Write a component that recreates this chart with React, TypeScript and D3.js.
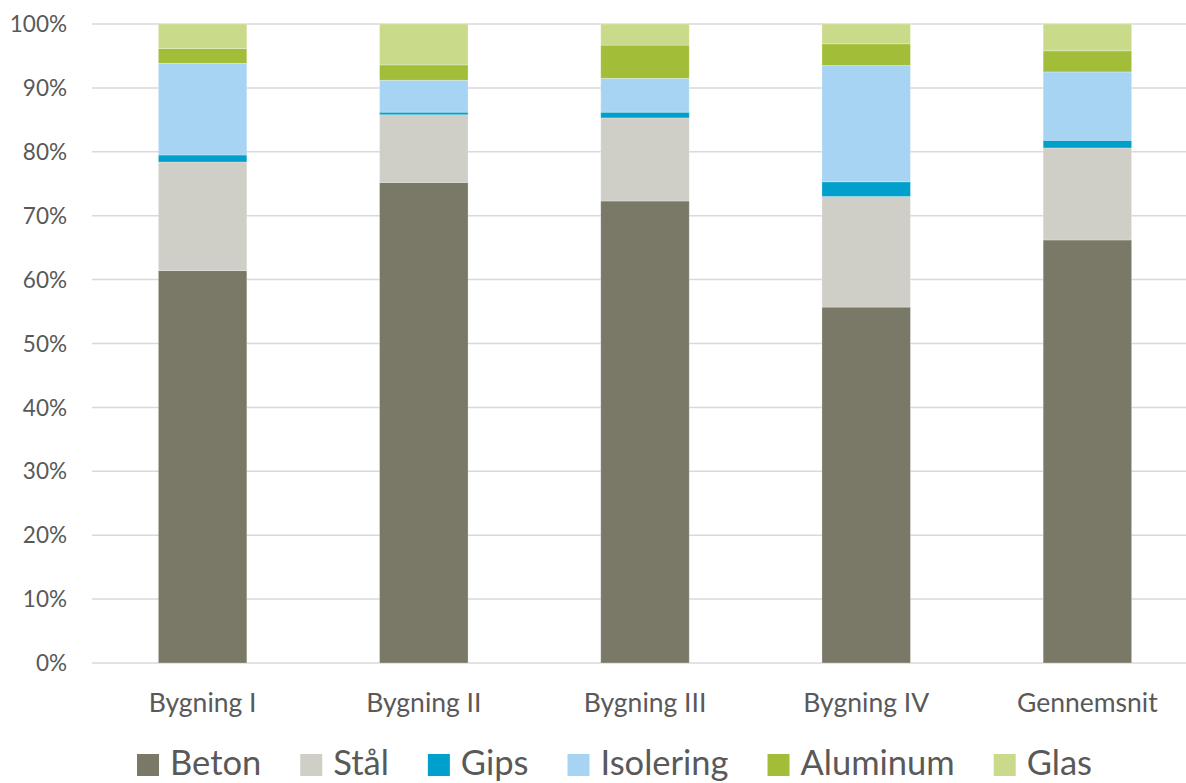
import React, { useEffect, useRef } from "react";
import * as d3 from "d3";

const categories = ["Bygning I", "Bygning II", "Bygning III", "Bygning IV", "Gennemsnit"];
const materials = ["Beton", "Stål", "Gips", "Isolering", "Aluminum", "Glas"];

// Share of each material per building (percent)
const beton = [61.4, 75.2, 72.3, 55.7, 66.2];
const staal = [17.0, 10.6, 13.0, 17.3, 14.4];
const gips = [1.1, 0.4, 0.9, 2.3, 1.2];
const isolering = [14.35, 5.0, 5.3, 18.2, 10.7];
const aluminum = [2.3, 2.4, 5.2, 3.4, 3.3];
const glas = [3.85, 6.4, 3.3, 3.1, 4.2];

const yTicks = [0, 0.1, 0.2, 0.3, 0.4, 0.5, 0.6, 0.7, 0.8, 0.9, 1.0];

const colors = ["#7a7866", "#cfcfc7", "#009fcc", "#a8d4f4", "#a2be38", "#c9da8b"];

const W = 1186;
const H = 783;
const FONT = "Lato, 'Liberation Sans', Arial, sans-serif";
const TEXT = "#595959";

export default function App() {
  const ref = useRef<SVGSVGElement | null>(null);

  useEffect(() => {
    const svg = d3.select(ref.current);
    svg.selectAll("*").remove();

    const series = [beton, staal, gips, isolering, aluminum, glas];
    const rows = categories.map((c, i) => {
      const r: Record<string, any> = { category: c };
      materials.forEach((m, k) => (r[m] = series[k][i]));
      return r;
    });

    const stacked = d3
      .stack<Record<string, any>>()
      .keys(materials)
      .offset(d3.stackOffsetExpand)(rows);

    const x = d3
      .scaleBand<string>()
      .domain(categories)
      .range([92, 1198])
      .paddingInner(0.6)
      .paddingOuter(0.3);

    const y = d3.scaleLinear().domain([0, 1]).range([663, 24]);
    const color = d3.scaleOrdinal<string, string>().domain(materials).range(colors);

    // Gridlines
    svg
      .append("g")
      .selectAll("line")
      .data(yTicks)
      .join("line")
      .attr("x1", 92)
      .attr("x2", W)
      .attr("y1", (d) => y(d))
      .attr("y2", (d) => y(d))
      .attr("stroke", "#d9d9d9")
      .attr("stroke-width", 1.5);

    // Y tick labels
    svg
      .append("g")
      .selectAll("text")
      .data(yTicks)
      .join("text")
      .attr("x", 67)
      .attr("y", (d) => y(d))
      .attr("dy", "0.36em")
      .attr("text-anchor", "end")
      .attr("font-family", FONT)
      .attr("font-size", 22.5)
      .attr("fill", TEXT)
      .text((d) => d3.format(".0%")(d));

    // Stacked bars
    svg
      .append("g")
      .selectAll("g")
      .data(stacked)
      .join("g")
      .attr("fill", (s) => color(s.key))
      .selectAll("rect")
      .data((s) => s)
      .join("rect")
      .attr("x", (d) => x(d.data.category as string)!)
      .attr("width", x.bandwidth())
      .attr("y", (d) => y(d[1]))
      .attr("height", (d) => y(d[0]) - y(d[1]))
      .attr("stroke", "#ffffff")
      .attr("stroke-opacity", 0.35)
      .attr("stroke-width", 0.75);

    // Category labels
    svg
      .append("g")
      .selectAll("text")
      .data(categories)
      .join("text")
      .attr("x", (d) => x(d)! + x.bandwidth() / 2)
      .attr("y", 711.5)
      .attr("text-anchor", "middle")
      .attr("font-family", FONT)
      .attr("font-size", 26.5)
      .attr("fill", TEXT)
      .text((d) => d);

    // Legend
    const legend = svg.append("g");
    const sq = 22;
    const gapText = 11;
    const gapItem = 39;
    const items = materials.map((m) => {
      const g = legend.append("g");
      g.append("rect")
        .attr("width", sq)
        .attr("height", sq)
        .attr("y", 754)
        .attr("fill", color(m));
      const t = g
        .append("text")
        .attr("x", sq + gapText)
        .attr("y", 775)
        .attr("font-family", FONT)
        .attr("font-size", 34.5)
        .attr("fill", TEXT)
        .text(m);
      const w = (t.node() as SVGTextElement).getComputedTextLength();
      return { g, w: sq + gapText + w };
    });
    const total = items.reduce((a, b) => a + b.w, 0) + gapItem * (items.length - 1);
    let cx = 614.5 - total / 2;
    items.forEach((it) => {
      it.g.attr("transform", `translate(${cx},0)`);
      cx += it.w + gapItem;
    });
  }, []);

  return (
    <svg
      ref={ref}
      width={W}
      height={H}
      style={{ position: "absolute", left: 0, top: 0, display: "block", background: "#fff" }}
    />
  );
}
